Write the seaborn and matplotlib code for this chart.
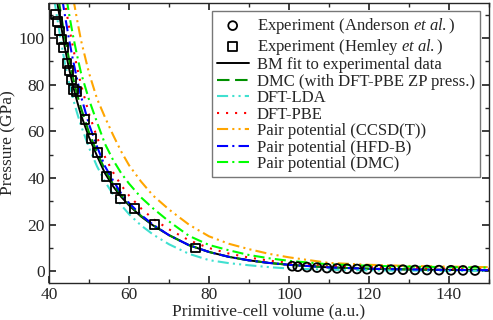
import numpy as np
import pandas as pd
import matplotlib
matplotlib.use("Agg")
import matplotlib.pyplot as plt
import seaborn as sns

# volume grid (a.u.) shared by the curves
vol = [41, 42, 43, 44, 45, 46, 47, 48, 50, 52, 54, 56, 58, 60, 63, 66, 70, 75,
       80, 85, 90, 95, 100, 110, 120, 130, 140, 150]

p_bm = [127, 116, 105.5, 95.5, 87, 79.5, 73, 67, 57.5, 49.5, 42, 36.5, 32, 28.3,
        23.5, 19.7, 15.5, 11.2, 8.3, 6.2, 4.7, 3.6, 2.8, 1.7, 1.1, 0.8, 0.6, 0.5]
p_dmc_zp = [133, 121, 110, 100, 91, 83, 76, 70, 59.5, 51, 43.5, 37.5, 32.7, 28.8,
            23.8, 19.8, 15.5, 11.2, 8.3, 6.2, 4.7, 3.6, 2.8, 1.7, 1.1, 0.8, 0.6, 0.5]
p_lda = [120, 109, 98.5, 89, 81, 74, 68, 62.5, 53, 45, 38.5, 33, 28.5, 24.5,
         19.7, 15.8, 11.6, 7.5, 4.8, 3.5, 2.6, 1.8, 1.2, 0.7, 0.4, 0.3, 0.2, 0.2]
p_pbe = [150, 137, 126, 115, 105, 96, 87.5, 80, 67.5, 57.5, 49, 42.5, 37, 32.5,
         27, 22.5, 18, 13.3, 10, 7.6, 5.9, 4.6, 3.7, 2.5, 1.8, 1.4, 1.2, 1.1]
p_ccsdt = [175, 162, 150, 139, 128, 117.5, 108, 99, 85, 74, 66, 58.5, 51.5, 45.5,
           38.5, 32.5, 26.5, 20, 15, 11.8, 9.5, 7.5, 6.0, 3.6, 2.8, 2.3, 2.0, 1.8]
p_hfdb = [143, 131, 120, 109.5, 99.5, 90.5, 82.5, 75, 63, 53.5, 45, 39, 33.5, 29.3,
          24.2, 20, 15.5, 11.2, 8.3, 6.2, 4.7, 3.6, 2.8, 1.7, 1.1, 0.8, 0.6, 0.5]
p_pair_dmc = [155, 143, 131, 121, 110.5, 101, 92.7, 85, 73.6, 63.9, 54.6, 47.8,
              42.2, 37.6, 31.7, 27, 21.4, 15.2, 11.3, 9.0, 7.0, 5.6, 4.5, 3.0,
              2.4, 2.0, 1.8, 1.6]

# experimental points
v_anderson = [100.8, 102.2, 104.5, 107, 109.5, 112, 114.5, 117, 119.5, 122.5,
              125.5, 128.5, 131.5, 134.5, 137.5, 140.5, 143.5, 146.5]
p_anderson = [2.2, 2.0, 1.8, 1.6, 1.4, 1.25, 1.1, 1.0, 0.9, 0.8, 0.75, 0.7, 0.6,
              0.55, 0.5, 0.45, 0.4, 0.35]
v_hemley = [41.7, 42.2, 42.6, 43.2, 43.7, 44.5, 45.0, 45.6, 46.2, 46.8, 49.0,
            50.7, 52.2, 54.3, 56.6, 57.8, 61.4, 66.3, 76.6]
p_hemley = [110, 107, 103, 99.5, 96, 89, 86, 82, 78, 77, 65, 57, 51, 40.5, 35.5,
            31, 27, 20, 10]

sns.set_theme(style="ticks")
plt.rcParams.update({
    "font.family": ["Liberation Serif", "DejaVu Serif"],
    "mathtext.fontset": "custom",
    "mathtext.rm": "Liberation Serif",
    "mathtext.it": "Liberation Serif:italic",
    "font.size": 12,
    "xtick.direction": "in", "ytick.direction": "in",
    "xtick.top": True, "ytick.right": True,
    "xtick.major.size": 5, "ytick.major.size": 5,
    "xtick.minor.size": 3, "ytick.minor.size": 3,
    "xtick.major.pad": 3, "ytick.major.pad": 3,
    "xtick.labelsize": 12.5, "ytick.labelsize": 12.5,
    "axes.linewidth": 1.0,
    "lines.scale_dashes": False,
})

fig = plt.figure(figsize=(4.93, 3.2), dpi=100)
ax = fig.add_axes([49 / 493, 37 / 320, 440 / 493, 280 / 320])

sns.scatterplot(x=v_anderson, y=p_anderson, marker="o", s=40, fc="none",
                ec="black", color="black", linewidth=1.3, zorder=4, ax=ax,
                label=r"Experiment (Anderson $et\ al.$)")
sns.scatterplot(x=v_hemley, y=p_hemley, marker="s", s=40, fc="none",
                ec="black", color="black", linewidth=1.3, zorder=4, ax=ax,
                label=r"Experiment (Hemley $et\ al.$)")

curves = [
    (p_bm, "BM fit to experimental data", "black", "-", 1.4),
    (p_dmc_zp, "DMC (with DFT-PBE ZP press.)", "#009000", (0, (9, 4)), 1.5),
    (p_lda, "DFT-LDA", "#40e0d0", (0, (8, 3, 1.5, 3, 1.5, 3)), 1.5),
    (p_pbe, "DFT-PBE", "#ff0000", (0, (1.5, 5)), 1.5),
    (p_ccsdt, "Pair potential (CCSD(T))", "#ffa500", (0, (8, 3, 1.5, 3, 1.5, 3)), 1.5),
    (p_hfdb, "Pair potential (HFD-B)", "#0000ff", (0, (8, 3, 1.5, 3)), 1.5),
    (p_pair_dmc, "Pair potential (DMC)", "#00ff00", (0, (8, 3, 1.5, 3)), 1.5),
]
for p, lab, col, ls, lw in curves:
    sns.lineplot(x=vol, y=p, color=col, linestyle=ls, linewidth=lw, label=lab, ax=ax)

ax.set_xlim(40, 150)
ax.set_ylim(-5, 115)
ax.set_xticks(np.arange(40, 141, 20))
ax.set_xticks(np.arange(50, 151, 20), minor=True)
ax.set_yticks(np.arange(0, 101, 20))
ax.set_yticks(np.arange(10, 111, 20), minor=True)
ax.set_xlabel("Primitive-cell volume (a.u.)", fontsize=12.5, labelpad=0)
ax.set_ylabel("Pressure (GPa)", fontsize=12.5, labelpad=2)

leg = ax.legend(loc="upper right", bbox_to_anchor=(0.9795, 0.9714),
                borderaxespad=0, fontsize=12, handlelength=1.9,
                labelspacing=0.03, handletextpad=0.5, borderpad=0.3,
                frameon=True, fancybox=False, framealpha=1)
leg.get_frame().set_edgecolor("#777777")
leg.get_frame().set_linewidth(1.0)

fig.savefig("out.png", dpi=100)
